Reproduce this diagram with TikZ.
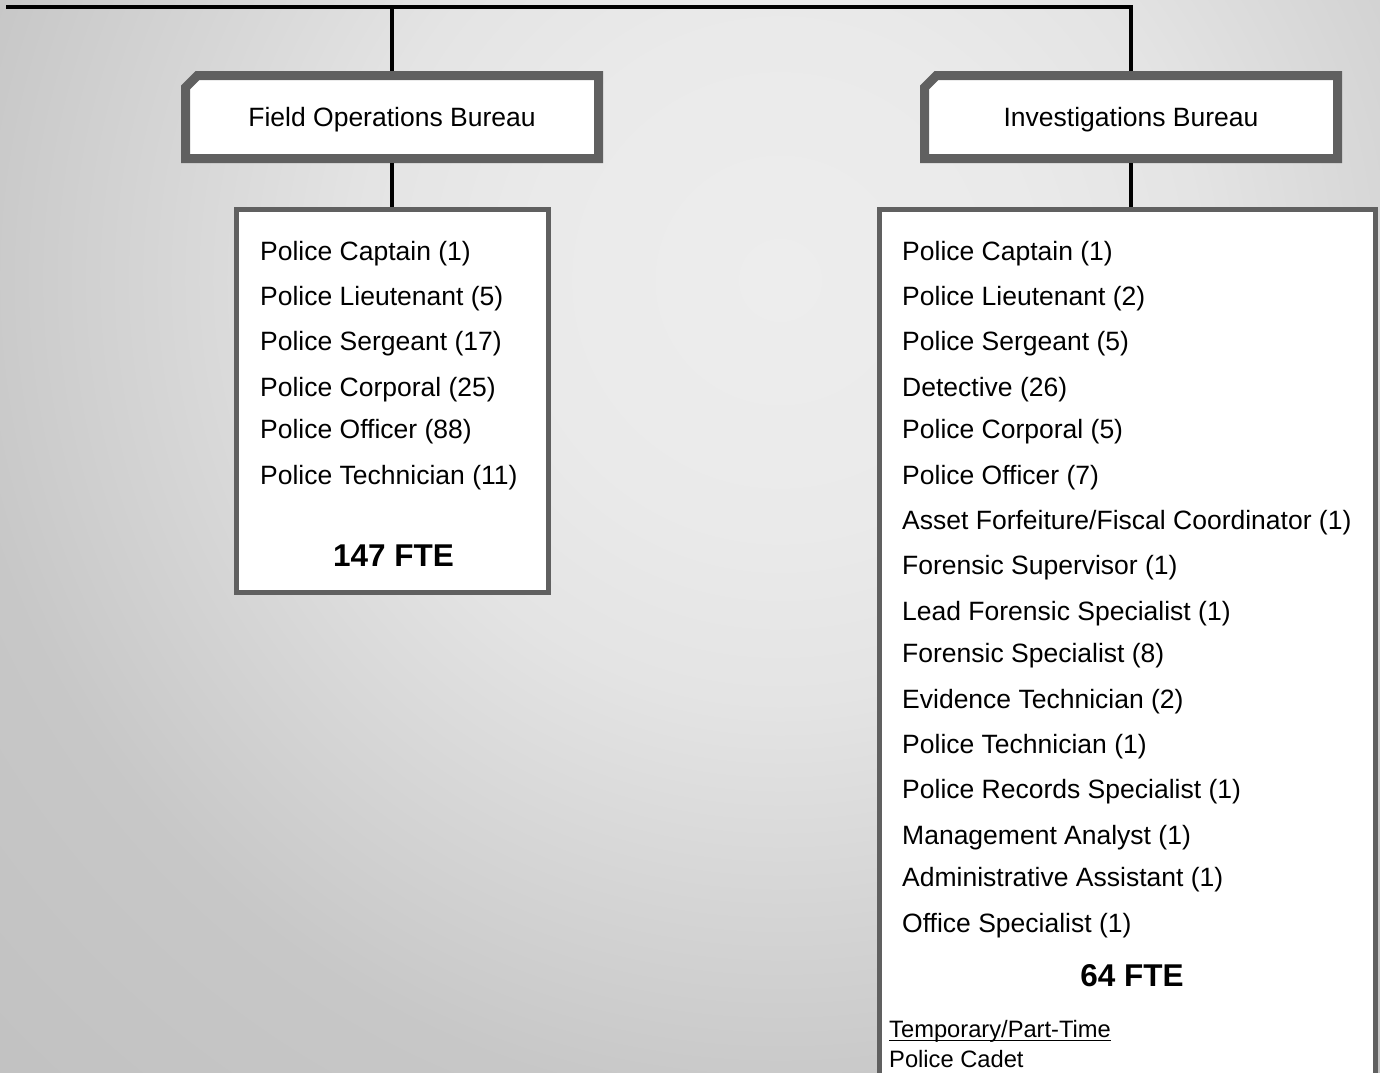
\documentclass[tikz,border=0pt]{standalone}
\usepackage{fontspec}
\setmainfont{Liberation Sans}
\usetikzlibrary{shapes.misc, positioning}
\definecolor{cFrame}{RGB}{96,96,96}
\definecolor{cBgLight}{RGB}{237,237,237}
\definecolor{cBgSoft}{RGB}{234,234,234}
\definecolor{cBgMidA}{RGB}{228,228,228}
\definecolor{cBgMidB}{RGB}{213,213,213}
\definecolor{cBgDark}{RGB}{199,199,199}
\definecolor{cBgEdge}{RGB}{193,193,193}
\pgfdeclareradialshading{bgglow}{\pgfpoint{0bp}{0bp}}{color(0bp)=(cBgLight); color(5bp)=(cBgSoft); color(8.4bp)=(cBgMidA); color(12.6bp)=(cBgMidB); color(16.6bp)=(cBgDark); color(23bp)=(cBgEdge); color(50bp)=(cBgEdge)}
\tikzset{
	bureau/.style ={chamfered rectangle, chamfered rectangle corners=north west, chamfered rectangle xsep=6pt, chamfered rectangle ysep=6pt, draw=cFrame, line width=9pt, fill=white, minimum width=413pt, minimum height=83pt, text height=19pt, text depth=1pt, font=\fontsize{26.5pt}{30pt}\selectfont},
	roster/.style ={rectangle, draw=cFrame, line width=5pt, fill=white},
	post/.style   ={anchor=base west, inner sep=0pt, font=\fontsize{26.5pt}{30pt}\selectfont},
	fte/.style    ={anchor=base, inner sep=0pt, font=\fontsize{31.5pt}{36pt}\selectfont\bfseries},
	tempnote/.style={anchor=base west, inner sep=0pt, font=\fontsize{23.7pt}{28pt}\selectfont},
	tie/.style    ={line width=3.5pt, black},
}
\begin{document}
\begin{tikzpicture}[x=1pt, y=-1pt]
	\useasboundingbox (0,0) rectangle (1380,1072);
	% background glow
	\begin{scope}
		\clip (0,0) rectangle (1380,1072);
		\fill[cBgEdge] (0,0) rectangle (1380,1072);
		\shade[shading=bgglow] (780,280) circle [radius=1250pt];
	\end{scope}
	% bureaus
	\node[bureau] (fob) at (392,117) {Field Operations Bureau};
	\node[bureau] (ivb) at (1131,117) {Investigations Bureau};
	\node[roster, minimum width=312pt, minimum height=383pt, below=44pt of fob] (fobList) {};
	\node[roster, minimum width=496pt, minimum height=900pt, below=44pt of ivb, xshift=-3.5pt] (ivbList) {};
	% positions
	\foreach \rank/\yy [count=\i] in {Police Captain (1)/260, Police Lieutenant (5)/305, Police Sergeant (17)/350, Police Corporal (25)/396, Police Officer (88)/438, Police Technician (11)/484}
		\node[post] (fobPost\i) at (260,\yy) {\rank};
	\node[fte] (fobFte) at (393.5,566) {147 FTE};
	\foreach \rank/\yy [count=\i] in {Police Captain (1)/260, Police Lieutenant (2)/305, Police Sergeant (5)/350, Detective (26)/396, Police Corporal (5)/438, Police Officer (7)/484, {Asset Forfeiture/Fiscal Coordinator (1)}/529, Forensic Supervisor (1)/574, Lead Forensic Specialist (1)/620, Forensic Specialist (8)/662, Evidence Technician (2)/708, Police Technician (1)/753, Police Records Specialist (1)/798, Management Analyst (1)/844, Administrative Assistant (1)/886, Office Specialist (1)/932}
		\node[post] (ivbPost\i) at (902,\yy) {\rank};
	\node[fte] (ivbFte) at (1132,986) {64 FTE};
	\node[tempnote] (ivbTemp) at (889,1037) {Temporary/Part-Time};
	\node[tempnote] (ivbCadet) at (889,1067) {Police Cadet};
	\draw[line width=1.4pt] ([yshift=-3.5pt]ivbTemp.base west) -- ([yshift=-3.5pt]ivbTemp.base east);
	% connectors
	\coordinate (topEnd) at (6,7);
	\draw[tie] (topEnd) -| (ivb.north);
	\draw[tie] (fob.north |- topEnd) -- (fob.north);
	\draw[tie] (fob.south) -- (fobList.north);
	\draw[tie] (ivb.south) -- (ivb.south |- ivbList.north);
\end{tikzpicture}
\end{document}
